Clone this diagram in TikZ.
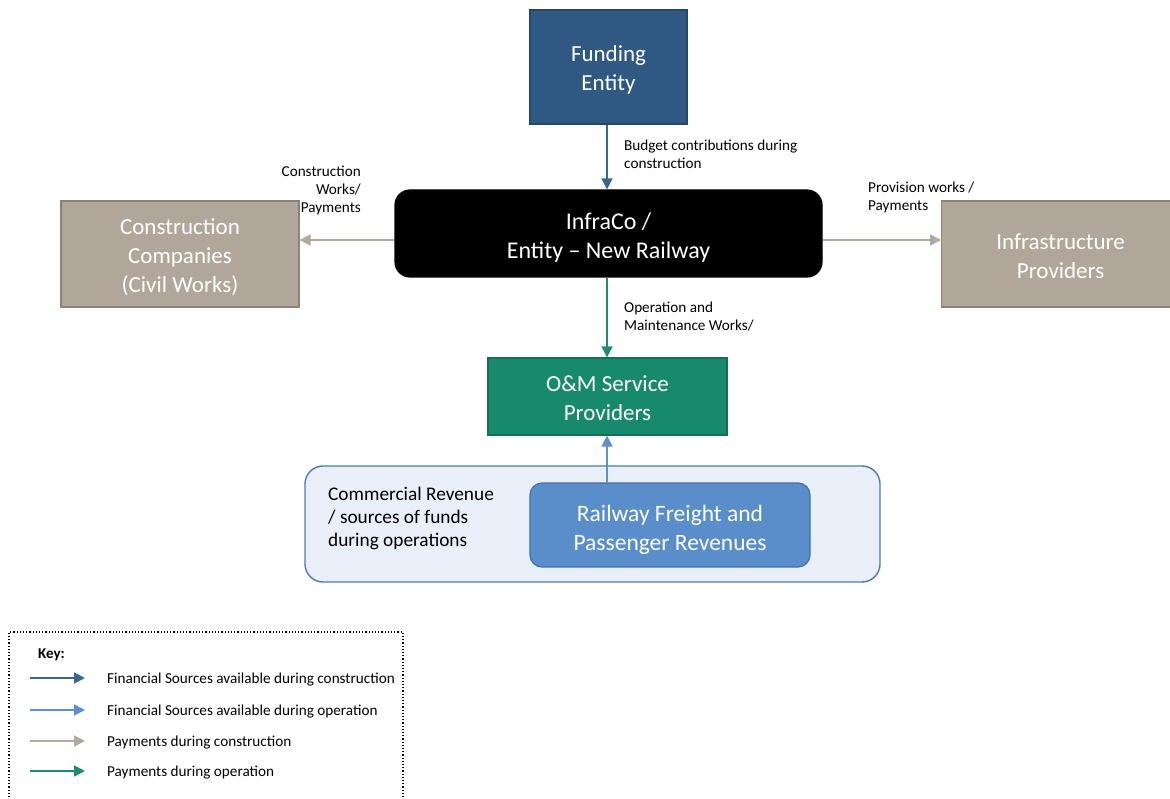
\documentclass[tikz,border=0pt]{standalone}
\usepackage{fontspec}
\setmainfont{Carlito}
\usetikzlibrary{arrows.meta}
\definecolor{fundblue}{HTML}{2F5982}
\definecolor{fundborder}{HTML}{24476A}
\definecolor{darkarrow}{HTML}{3B6690}
\definecolor{taupe}{HTML}{B1A69A}
\definecolor{taupeborder}{HTML}{8E8276}
\definecolor{taupearrow}{HTML}{B3A89D}
\definecolor{omgreen}{HTML}{188A6C}
\definecolor{omborder}{HTML}{146F57}
\definecolor{greenarrow}{HTML}{1E8C6E}
\definecolor{lightbg}{HTML}{E9EFF8}
\definecolor{outerborder}{HTML}{4C7BAF}
\definecolor{railblue}{HTML}{5A8ECB}
\definecolor{railborder}{HTML}{3F6FA6}
\definecolor{lightarrow}{HTML}{5B90CC}
\tikzset{
  box/.style={draw, line width=1.2pt, inner sep=0pt},
  big/.style={text=white, align=center, inner sep=0pt, font=\fontsize{23}{29}\selectfont},
  lbl/.style={font=\fontsize{15.2}{18}\selectfont, inner sep=0pt},
  conn/.style={line width=1.6pt, -{Triangle[length=11pt,width=11pt]}},
  keytxt/.style={font=\fontsize{15.2}{16}\selectfont, anchor=west, inner sep=0pt},
}
\begin{document}
\begin{tikzpicture}[x=1pt,y=-1pt]
\useasboundingbox (0,0) rectangle (1170,799);
% boxes
\node[box, fill=fundblue, draw=fundborder, minimum width=157pt, minimum height=114pt,
  label={[big, yshift=-3pt]center:Funding\\Entity}] (fund) at (608.5,67) {};
\node[box, fill=black, draw=black, rounded corners=15pt, minimum width=427pt, minimum height=87pt,
  label={[big, yshift=-4pt, font=\fontsize{24}{29}\selectfont]center:InfraCo /\\Entity -- New Railway}] (infra) at (608.5,233.5) {};
\node[box, fill=taupe, draw=taupeborder, minimum width=238pt, minimum height=106pt,
  label={[big, yshift=-3pt]center:Construction\\Companies\\(Civil Works)}] (cc) at (180,254) {};
\node[box, fill=taupe, draw=taupeborder, minimum width=240pt, minimum height=106pt, anchor=west,
  label={[big, yshift=-2.5pt, xshift=-1pt]center:Infrastructure\\Providers}] (ip) at (941,254) {};
\node[box, fill=omgreen, draw=omborder, minimum width=239pt, minimum height=77pt,
  label={[big, yshift=-2pt]center:O\&M Service\\Providers}] (om) at (607.5,396.5) {};
\node[draw=outerborder, fill=lightbg, line width=1.4pt, rounded corners=18pt, minimum width=575pt, minimum height=116pt, inner sep=0pt] (outer) at (592.5,524) {};
\node[box, fill=railblue, draw=railborder, rounded corners=12pt, minimum width=280pt, minimum height=84pt,
  label={[big, yshift=-4.5pt, font=\fontsize{23.5}{29}\selectfont]center:Railway Freight and\\Passenger Revenues}] (rail) at (670,525) {};
\node[anchor=north west, align=left, inner sep=0pt, font=\fontsize{19.3}{23}\selectfont] (cr) at (328,487) {Commercial Revenue\\/ sources of funds\\during operations};
% connectors
\draw[conn, darkarrow] (fund.south -| 607,0) -- (infra.north -| 607,0);
\draw[conn, taupearrow] (infra.west |- 0,240) -- (cc.east |- 0,240);
\draw[conn, taupearrow] (infra.east |- 0,240) -- (ip.west |- 0,240);
\draw[conn, greenarrow] (infra.south -| 607,0) -- (om.north -| 607,0);
\draw[conn, lightarrow] (rail.north -| 607,0) -- (om.south -| 607,0);
% labels
\node[lbl, anchor=north west, align=left] (l1) at (624,140) {Budget contributions during\\construction};
\node[lbl, anchor=north east, align=right] (l2) at (361,166) {Construction\\Works/\\Payments};
\node[lbl, anchor=north west, align=left] (l3) at (868,182) {Provision works /\\Payments};
\node[lbl, anchor=north west, align=left] (l4) at (624,302) {Operation and\\Maintenance Works/};
% key
\draw[line width=1.2pt, dotted] (9,810) -- (9,632) -- (403,632) -- (403,810);
\node[anchor=west, inner sep=0pt, font=\bfseries\fontsize{15}{16}\selectfont] (key) at (38,655) {Key:};
\coordinate (k1a) at (30,678); \coordinate (k1b) at (85,678);
\coordinate (k2a) at (30,710); \coordinate (k2b) at (85,710);
\coordinate (k3a) at (30,741); \coordinate (k3b) at (85,741);
\coordinate (k4a) at (30,771); \coordinate (k4b) at (85,771);
\draw[conn, darkarrow] (k1a) -- (k1b);
\draw[conn, lightarrow] (k2a) -- (k2b);
\draw[conn, taupearrow] (k3a) -- (k3b);
\draw[conn, greenarrow] (k4a) -- (k4b);
\node[keytxt] (t1) at (107,680) {Financial Sources available during construction};
\node[keytxt] (t2) at (107,712) {Financial Sources available during operation};
\node[keytxt] (t3) at (107,743) {Payments during construction};
\node[keytxt] (t4) at (107,773) {Payments during operation};
\end{tikzpicture}
\end{document}
